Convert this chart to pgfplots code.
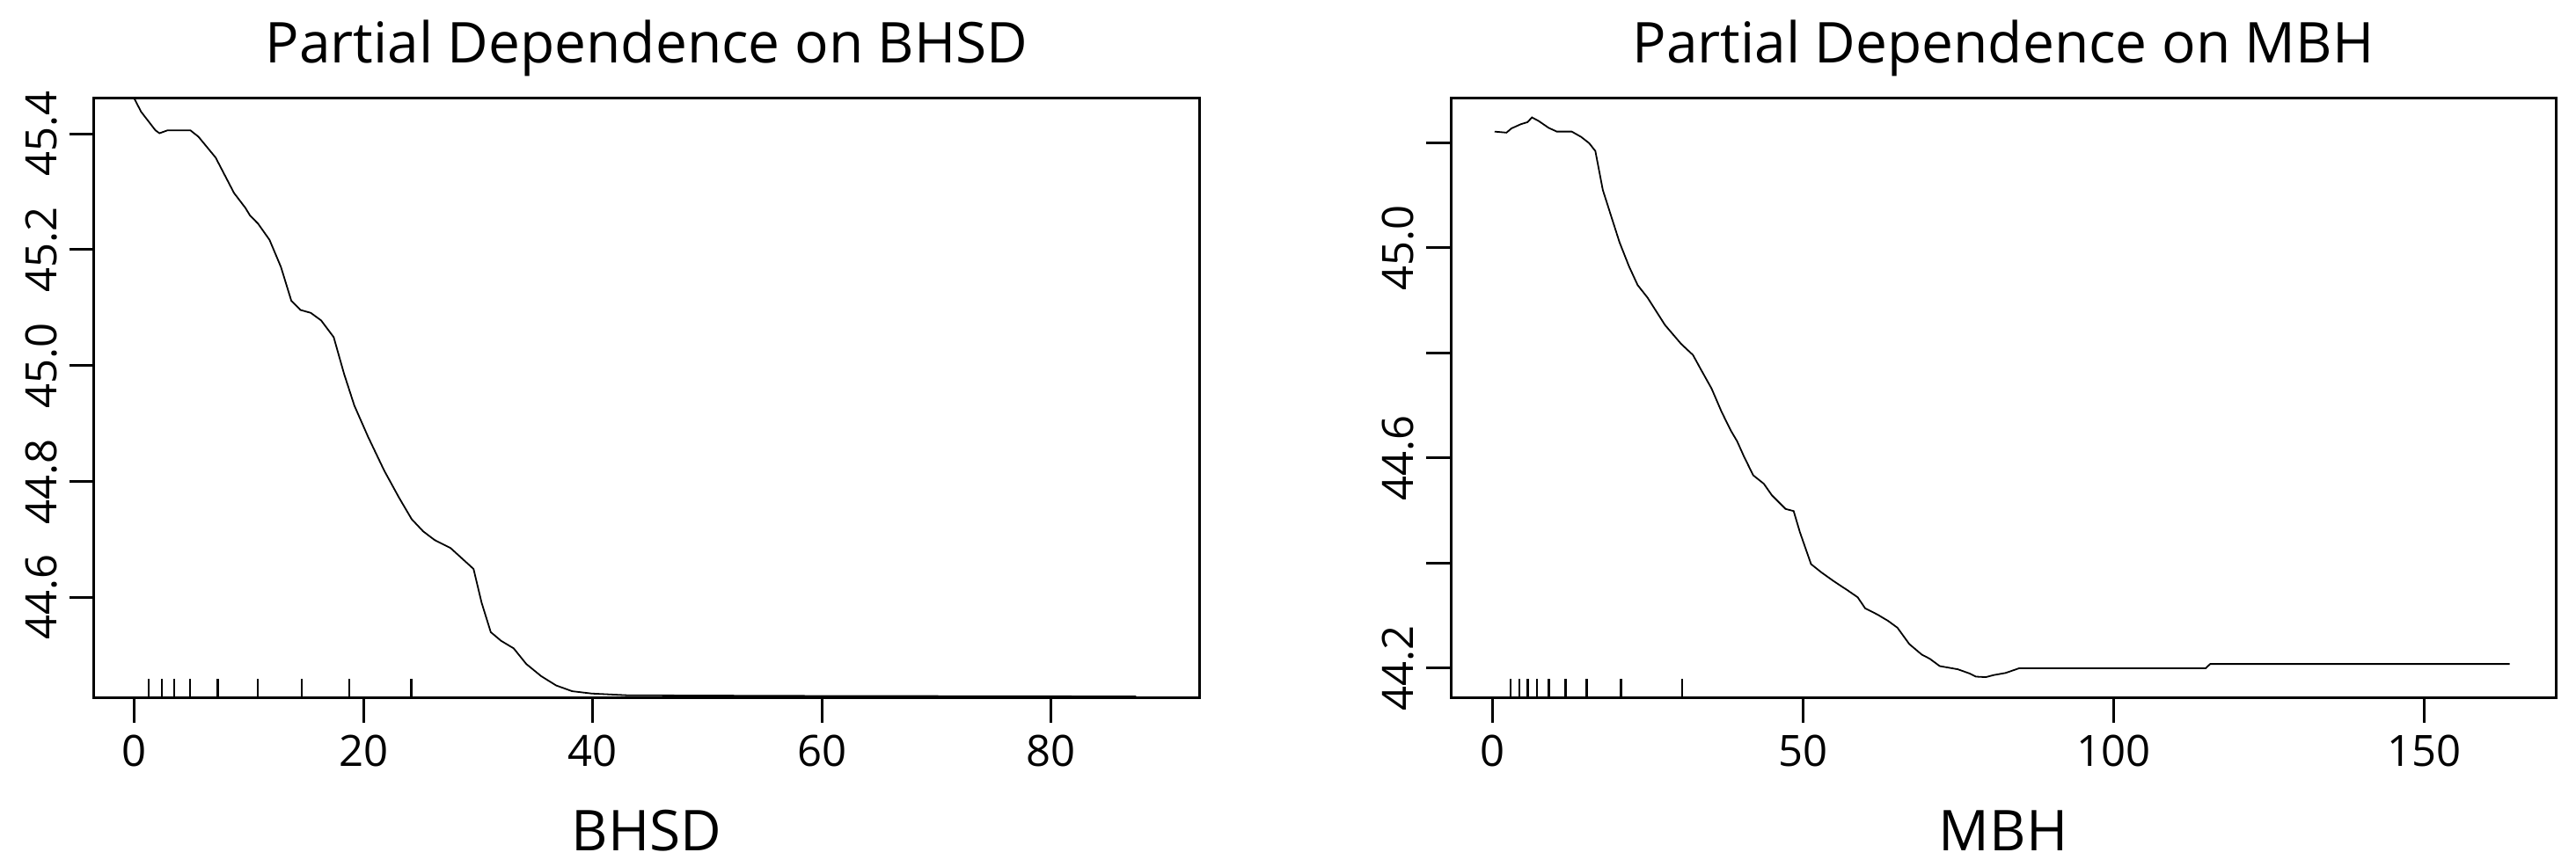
\documentclass[border=0pt]{standalone}
\usepackage{fontspec}
\setmainfont{Open Sans}
\usepackage{pgfplots}
\pgfplotsset{compat=1.18}
\pgfplotstableread{
x y
0 45.461
0.6 45.438
1.85 45.406
2.2 45.401
2.9 45.406
4.9 45.406
5.6 45.395
6.1 45.383
7.1 45.359
8.7 45.298
9.7 45.272
10.1 45.259
10.8 45.245
11.8 45.217
12.8 45.170
13.7 45.112
14.5 45.096
15.4 45.091
16.3 45.078
17.4 45.049
18.3 44.986
19.2 44.931
20.4 44.877
21.8 44.819
23.1 44.772
24.2 44.735
25.2 44.714
26.2 44.699
27.6 44.685
28.6 44.667
29.6 44.649
30.3 44.591
31.1 44.540
32.0 44.525
33.1 44.512
34.2 44.485
35.5 44.464
36.8 44.448
38.2 44.438
39.9 44.434
43.0 44.431
56.7 44.430
87.4 44.429
}\bhsd
\pgfplotstableread{
x y
0.39 45.221
2.3 45.219
3.1 45.227
4.6 45.235
5.7 45.239
6.4 45.248
7.5 45.241
9.1 45.228
10.4 45.221
12.8 45.221
14.3 45.211
15.6 45.199
16.6 45.184
17.8 45.110
19.2 45.058
20.5 45.010
22.0 44.965
23.4 44.929
25.0 44.905
27.8 44.853
30.4 44.817
32.3 44.796
33.6 44.768
35.3 44.732
36.9 44.688
38.4 44.652
39.4 44.632
40.5 44.603
42.0 44.567
43.7 44.551
45.0 44.529
47.2 44.503
48.5 44.499
49.5 44.459
51.3 44.398
53.0 44.382
54.9 44.366
57.2 44.348
58.8 44.335
60.0 44.314
62.0 44.302
63.7 44.290
65.2 44.277
67.1 44.246
69.1 44.226
70.4 44.218
72.0 44.204
74.9 44.198
76.8 44.190
77.8 44.184
79.4 44.183
80.7 44.187
82.6 44.191
84.8 44.200
114.8 44.200
115.5 44.208
163.7 44.208
}\mbh
\pgfplotstableread{
x y
1.24 44.426
1.24 44.459
nan nan
2.40 44.426
2.40 44.459
nan nan
3.50 44.426
3.50 44.459
nan nan
4.87 44.426
4.87 44.459
nan nan
7.28 44.426
7.28 44.459
nan nan
10.78 44.426
10.78 44.459
nan nan
14.61 44.426
14.61 44.459
nan nan
18.74 44.426
18.74 44.459
nan nan
24.16 44.426
24.16 44.459
}\rugA
\pgfplotstableread{
x y
2.97 44.143
2.97 44.180
nan nan
4.4 44.143
4.4 44.180
nan nan
5.7 44.143
5.7 44.180
nan nan
7.2 44.143
7.2 44.180
nan nan
9.1 44.143
9.1 44.180
nan nan
11.8 44.143
11.8 44.180
nan nan
15.2 44.143
15.2 44.180
nan nan
20.7 44.143
20.7 44.180
nan nan
30.6 44.143
30.6 44.180
}\rugB
\begin{document}
\begin{tikzpicture}[x=1pt,y=1pt]
\useasboundingbox (0,0) rectangle (732,246.5);
\pgfplotsset{
 pd/.style={
  scale only axis, width=314pt, height=170.5pt, anchor=south west,
  axis line style={line width=0.75pt},
  tick align=outside, major tick length=7pt,
  tick style={line width=0.75pt, black},
  tick pos=left,
  /pgf/number format/assume math mode=true,
  tick label style={font=\fontsize{12.25}{14}\selectfont},
  yticklabel style={rotate=90, anchor=south},
  label style={font=\fontsize{16}{19}\selectfont},
  title style={font=\fontsize{16}{19}\selectfont, at={(axis description cs:0.5,1)}, anchor=base, yshift=4pt},
  xlabel style={at={(axis description cs:0.5,0)}, anchor=base, yshift=-43.5pt},
  unbounded coords=jump,
 }
}
\begin{axis}[pd, at={(26.75pt,48pt)},
  xmin=-3.5, xmax=92.9, ymin=44.426, ymax=45.461,
  xtick={0,20,40,60,80},
  ytick={44.6,44.8,45.0,45.2,45.4},
  yticklabels={44.6,44.8,45.0,45.2,45.4},
  title={Partial Dependence on BHSD}, xlabel={BHSD}]
\addplot[black, line width=0.45pt] table[x=x,y=y] {\bhsd};
\addplot[black, line width=0.6pt] table[x=x,y=y] {\rugA};
\end{axis}
\begin{axis}[pd, at={(412.25pt,48pt)},
  xmin=-6.66, xmax=171.1, ymin=44.143, ymax=45.284,
  xtick={0,50,100,150},
  ytick={44.2,44.4,44.6,44.8,45.0,45.2},
  yticklabels={44.2,,44.6,,45.0,},
  title={Partial Dependence on MBH}, xlabel={MBH}]
\addplot[black, line width=0.45pt] table[x=x,y=y] {\mbh};
\addplot[black, line width=0.6pt] table[x=x,y=y] {\rugB};
\end{axis}
\end{tikzpicture}
\end{document}
